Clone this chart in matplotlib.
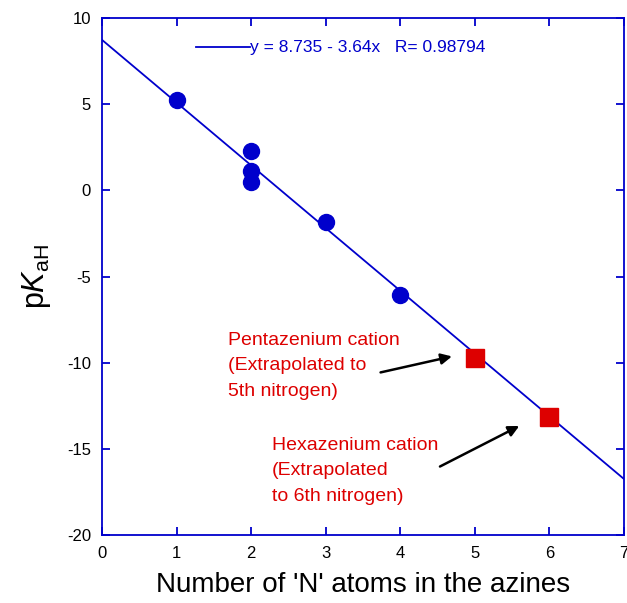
import matplotlib
matplotlib.use("Agg")
import matplotlib.pyplot as plt
import numpy as np

plt.rcParams['font.family'] = ['Liberation Sans', 'DejaVu Sans']
plt.rcParams['axes.unicode_minus'] = False
plt.rcParams['mathtext.fontset'] = 'custom'
plt.rcParams['mathtext.rm'] = 'Liberation Sans'
plt.rcParams['mathtext.it'] = 'Liberation Sans:italic'

n_blue = [1, 2, 2, 2, 3, 4]
pk_blue = [5.22, 2.28, 1.1, 0.48, -1.84, -6.05]
n_red = [5, 6]
pk_red = [-9.7, -13.15]
intercept = 8.735
slope = -3.64
xticks = [0, 1, 2, 3, 4, 5, 6, 7]
yticks = [-20, -15, -10, -5, 0, 5, 10]

blue = '#0000cc'
red = '#dd0000'

fig = plt.figure(figsize=(6.27, 6.03), dpi=100)
ax = fig.add_axes([0.1627, 0.1128, 0.8323, 0.8572])

xf = np.array([0, 7])
ax.plot(xf, intercept + slope * xf, color=blue, lw=1.3, zorder=2)
ax.plot(n_blue, pk_blue, 'o', color=blue, ms=11.5, zorder=3)
ax.plot(n_red, pk_red, 's', color=red, ms=13, zorder=3)

ax.set_xlim(0, 7)
ax.set_ylim(-20, 10)
ax.set_xticks(xticks)
ax.set_yticks(yticks)
for s in ax.spines.values():
    s.set_color(blue)
    s.set_linewidth(1.3)
ax.tick_params(direction='in', length=6, width=1.3, color=blue, top=True, right=True,
               labelsize=12, pad=8)
ax.tick_params(axis='x', pad=8)

ax.set_xlabel("Number of 'N' atoms in the azines", fontsize=20, labelpad=8)
ax.set_ylabel(r"p$\mathit{K}_{\mathrm{aH}}$", fontsize=22, labelpad=10)

# legend line and fit text
ax.plot([1.26, 1.99], [8.3, 8.3], color=blue, lw=1.3)
ax.text(1.99, 8.3, "y = 8.735 - 3.64x   R= 0.98794", color=blue, fontsize=12.5,
        va='center', ha='left')

ax.text(1.69, -8.2, "Pentazenium cation\n(Extrapolated to\n5th nitrogen)", color=red,
        fontsize=14, va='top', ha='left', linespacing=1.65)
ax.annotate("", xy=(4.73, -9.6), xytext=(3.7, -10.6),
            arrowprops=dict(arrowstyle='-|>', color='black', lw=1.8, mutation_scale=16))
ax.text(2.28, -14.3, "Hexazenium cation\n(Extrapolated\nto 6th nitrogen)", color=red,
        fontsize=14, va='top', ha='left', linespacing=1.65)
ax.annotate("", xy=(5.63, -13.6), xytext=(4.5, -16.1),
            arrowprops=dict(arrowstyle='-|>', color='black', lw=1.8, mutation_scale=16))

fig.savefig("out.png", dpi=100)
